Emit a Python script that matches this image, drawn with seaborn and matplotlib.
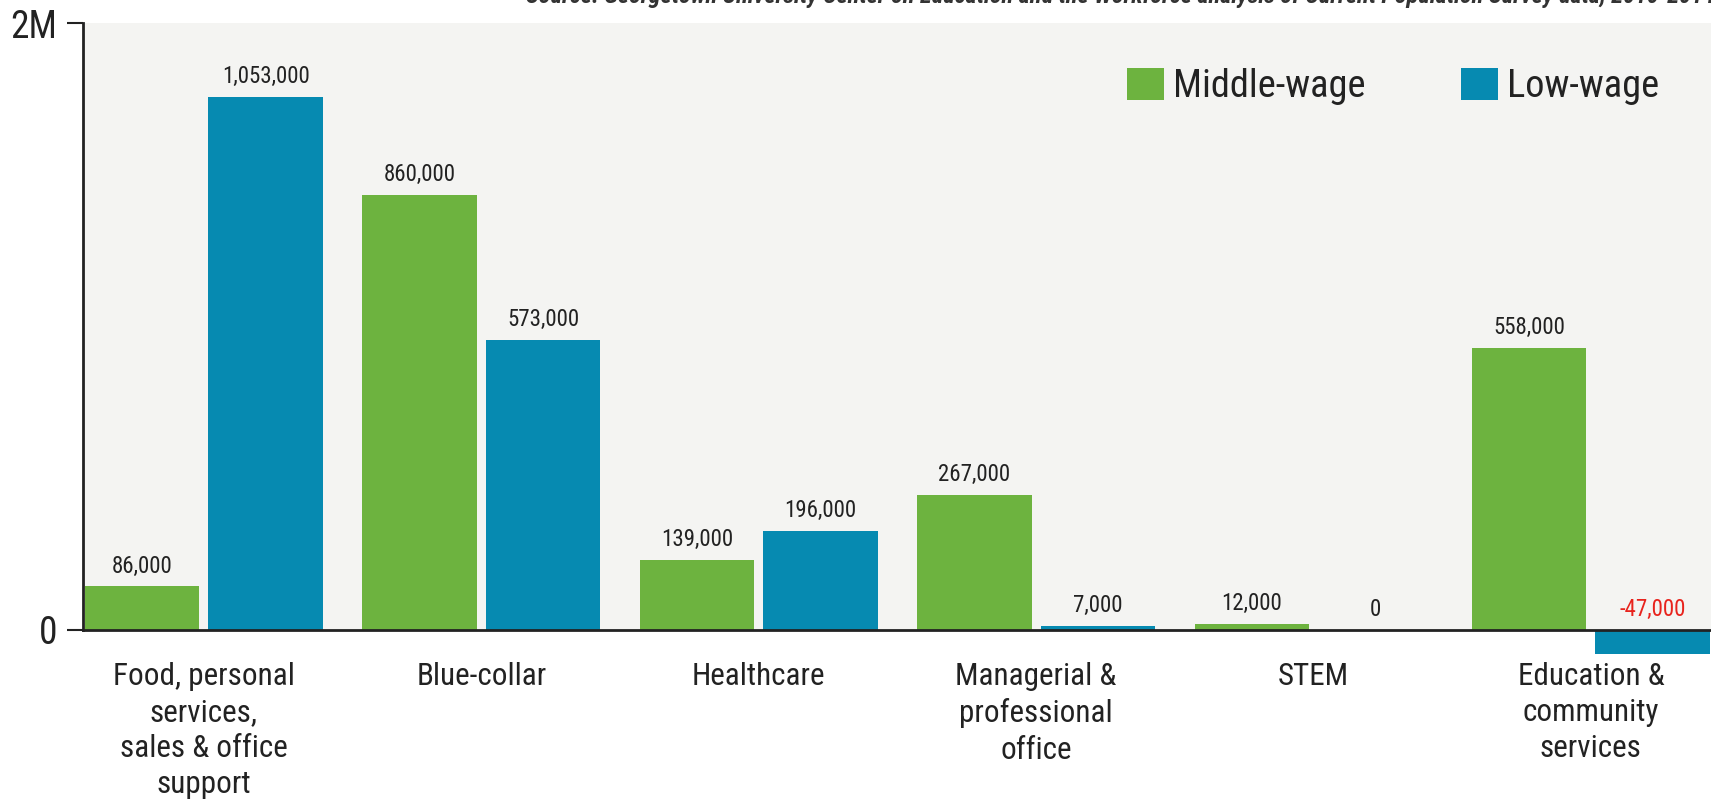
import matplotlib
matplotlib.use("Agg")
import matplotlib.pyplot as plt
from matplotlib import font_manager as fm
import seaborn as sns
import pandas as pd

# Job growth by occupation group (change in jobs)
categories = [
    "Food, personal\nservices,\nsales & office\nsupport",
    "Blue-collar",
    "Healthcare",
    "Managerial &\nprofessional\noffice",
    "STEM",
    "Education &\ncommunity\nservices",
]
middle_wage = [86000, 860000, 139000, 267000, 12000, 558000]
low_wage = [1053000, 573000, 196000, 7000, 0, -47000]
series_names = ["Middle-wage", "Low-wage"]
y_tick_values = [0, 1200000]
y_tick_labels = ["0", "2M"]
source_note = ("Source: Georgetown University Center on Education and the Workforce "
               "analysis of Current Population Survey data, 2010-2014")

GREEN = "#6db33f"
BLUE = "#068ab1"
PANEL = "#f4f4f2"
INK = "#222222"
NEG = "#e8231d"

# narrow grotesque for all chart text
installed = {f.name for f in fm.fontManager.ttflist}
narrow = next((n for n in ["Roboto Condensed", "Archivo Narrow", "PT Sans Narrow",
                           "IBM Plex Sans Condensed", "Open Sans Condensed"]
               if n in installed), "DejaVu Sans")

sns.set_theme(style="white")
plt.rcParams["font.family"] = [narrow, "DejaVu Sans"]

df = pd.DataFrame({
    "category": categories * 2,
    "series": [series_names[0]] * len(categories) + [series_names[1]] * len(categories),
    "value": middle_wage + low_wage,
})

W, H = 1711, 802
fig = plt.figure(figsize=(W / 100, H / 100), dpi=100)
fig.patch.set_facecolor("white")
ax = fig.add_axes([83 / W, 1 - 630 / H, (W - 83) / W, (630 - 23) / H])
ax.set_facecolor(PANEL)

sns.barplot(data=df, x="category", y="value", hue="series",
            order=categories, hue_order=series_names,
            palette=[GREEN, BLUE], saturation=1, width=0.89, gap=0.073,
            linewidth=0, errorbar=None, ax=ax)

for patch in ax.patches:
    patch.set_clip_on(False)

ax.set_xlim(-0.436, 5.433)
ax.set_ylim(0, y_tick_values[-1])

# value labels sit above each bar (or above the baseline for non-positive values)
for container, vals in zip(ax.containers, [middle_wage, low_wage]):
    for bar, v in zip(container, vals):
        x = bar.get_x() + bar.get_width() / 2
        ax.annotate(f"{v:,}", xy=(x, max(v, 0)), xytext=(0, 6.5),
                    textcoords="offset points", ha="center", va="bottom",
                    fontsize=16.5, color=NEG if v < 0 else INK,
                    annotation_clip=False)

ax.set_xlabel("")
ax.set_ylabel("")
ax.set_yticks(y_tick_values)
ax.set_yticklabels(y_tick_labels)
ax.tick_params(axis="y", left=True, length=11.5, width=1.5, color=INK,
               pad=7, labelsize=27, labelcolor=INK)
ax.tick_params(axis="x", length=0, pad=23, labelsize=22.4, labelcolor=INK)
for lbl in ax.get_xticklabels():
    lbl.set_linespacing(1.31)
    lbl.set_multialignment("center")

for side in ["top", "right"]:
    ax.spines[side].set_visible(False)
for side in ["left", "bottom"]:
    ax.spines[side].set_color(INK)
    ax.spines[side].set_linewidth(2)
ax.spines["bottom"].set_zorder(5)

sns.move_legend(ax, loc="center left", bbox_to_anchor=(1127 / W, 1 - 86.5 / H),
                bbox_transform=fig.transFigure, ncol=2, frameon=False, title=None,
                fontsize=27.6, handlelength=0.97, handleheight=0.9,
                handletextpad=0.22, columnspacing=2.5, borderpad=0,
                borderaxespad=0)
for t in ax.get_legend().get_texts():
    t.set_color(INK)

fig.text(526 / W, 1 - 3 / H, source_note, ha="left", va="baseline",
         fontsize=17.5, style="italic", fontweight="bold", color="#333333")

fig.savefig("out.png", dpi=100)
